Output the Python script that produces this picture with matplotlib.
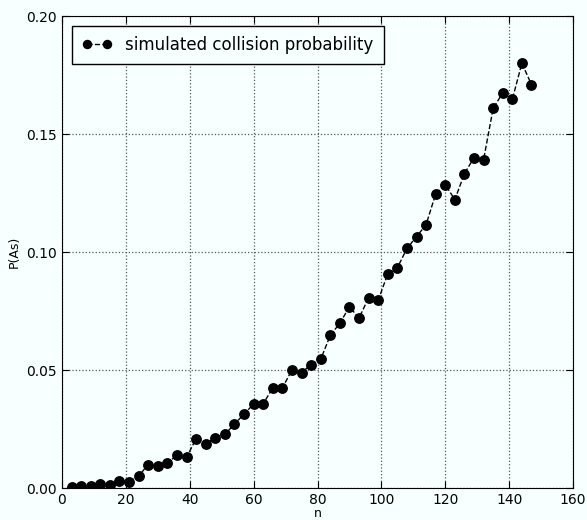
import matplotlib
matplotlib.use("Agg")
import matplotlib.pyplot as plt
from matplotlib import font_manager

n_values = [3, 6, 9, 12, 15, 18, 21, 24, 27, 30, 33, 36, 39, 42, 45, 48, 51, 54, 57,
            60, 63, 66, 69, 72, 75, 78, 81, 84, 87, 90, 93, 96, 99, 102, 105, 108,
            111, 114, 117, 120, 123, 126, 129, 132, 135, 138, 141, 144, 147]
prob_values = [0.0006, 0.0008, 0.0008, 0.0016, 0.0013, 0.0031, 0.0027, 0.0051, 0.0099,
               0.0092, 0.0107, 0.0138, 0.0130, 0.0209, 0.0188, 0.0212, 0.0227, 0.0271,
               0.0313, 0.0356, 0.0357, 0.0424, 0.0424, 0.0500, 0.0489, 0.0523, 0.0545,
               0.0647, 0.0698, 0.0768, 0.0720, 0.0806, 0.0795, 0.0908, 0.0933, 0.1015,
               0.1065, 0.1116, 0.1246, 0.1285, 0.1222, 0.1332, 0.1400, 0.1391, 0.1609,
               0.1674, 0.1647, 0.1800, 0.1709]
x_ticks = [0, 20, 40, 60, 80, 100, 120, 140, 160]
y_ticks = [0.00, 0.05, 0.10, 0.15, 0.20]
y_tick_labels = ["0.00", "0.05", "0.10", "0.15", "0.20"]

bg = "#f8ffff"
fig = plt.figure(figsize=(5.87, 5.2), dpi=100)
fig.patch.set_facecolor(bg)
ax = fig.add_axes([62 / 587, 1 - 488 / 520, (573 - 62) / 587, (488 - 16) / 520])
ax.set_facecolor(bg)

ax.plot(n_values, prob_values, "k--o", lw=1.0, markersize=6.8,
        label="simulated collision probability")

ax.set_xlim(0, 160)
ax.set_ylim(0, 0.20)
ax.set_xticks(x_ticks)
ax.set_yticks(y_ticks)
ax.set_yticklabels(y_tick_labels)
ax.tick_params(direction="in", length=5, top=True, right=True, labelsize=10)
ax.grid(True, linestyle=":", color="#555555", lw=0.9)
ax.set_xlabel("n", fontsize=9, labelpad=0)
ax.set_ylabel("P(As)", fontsize=9, labelpad=4)

# condensed legend text if available
names = {f.name for f in font_manager.fontManager.ttflist}
if "DejaVu Sans Condensed" in names:
    leg_prop = font_manager.FontProperties(family="DejaVu Sans Condensed", size=13.5)
else:
    leg_prop = font_manager.FontProperties(family="DejaVu Sans", size=12)

leg = ax.legend(loc="upper left", numpoints=2, fancybox=False, prop=leg_prop,
                handlelength=1.8, borderaxespad=0.6, borderpad=0.6,
                markerscale=0.85)
leg.get_frame().set_edgecolor("black")
leg.get_frame().set_facecolor(bg)
leg.get_frame().set_alpha(1)

fig.savefig("out.png", dpi=100, facecolor=fig.get_facecolor())
